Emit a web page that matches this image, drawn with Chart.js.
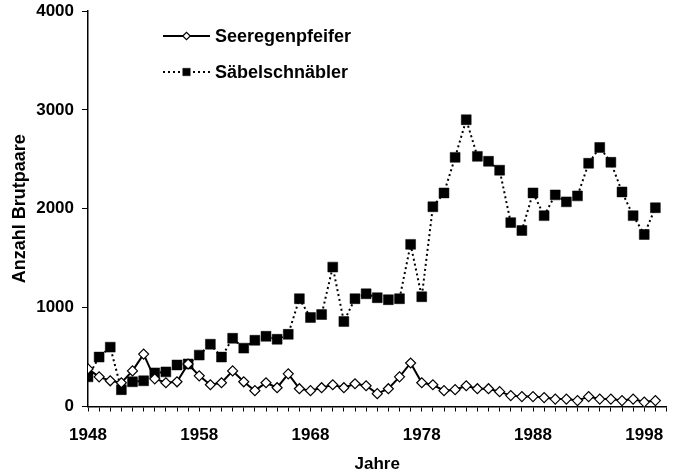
<!DOCTYPE html>
<html>
<head>
    <title>Seeregenpfeifer und Säbelschnäbler</title>
    <script src="https://cdn.jsdelivr.net/npm/chart.js"></script>
    <style>
        body { margin: 0; background: #fff; }
        .wrap { width: 674px; height: 475px; }
    </style>
</head>
<body>
    <div class="wrap"><canvas id="brut"></canvas></div>
    <script>
        // Jahre 1948-1999
        const years = [1948, 1949, 1950, 1951, 1952, 1953, 1954, 1955, 1956, 1957,
            1958, 1959, 1960, 1961, 1962, 1963, 1964, 1965, 1966, 1967,
            1968, 1969, 1970, 1971, 1972, 1973, 1974, 1975, 1976, 1977,
            1978, 1979, 1980, 1981, 1982, 1983, 1984, 1985, 1986, 1987,
            1988, 1989, 1990, 1991, 1992, 1993, 1994, 1995, 1996, 1997,
            1998, 1999];

        const seeregenpfeifer = [380, 300, 260, 240, 360, 530, 280, 240, 250, 430,
            310, 220, 240, 360, 250, 160, 240, 190, 330, 180,
            160, 190, 220, 190, 230, 210, 130, 180, 300, 440,
            240, 220, 160, 170, 210, 180, 180, 150, 110, 100,
            100, 90, 75, 75, 60, 100, 75, 75, 60, 75,
            45, 60];

        const saebelschnaebler = [300, 500, 600, 170, 250, 260, 340, 350, 420, 430,
            520, 630, 500, 690, 590, 670, 710, 680, 730, 1090,
            900, 930, 1410, 860, 1090, 1140, 1100, 1080, 1090, 1640,
            1110, 2020, 2160, 2520, 2900, 2530, 2480, 2390, 1860, 1780,
            2160, 1930, 2140, 2070, 2130, 2460, 2620, 2470, 2170, 1930,
            1740, 2010];

        const labelYears = [1948, 1958, 1968, 1978, 1988, 1998];

        const font = 'Arial, "Liberation Sans", Helvetica, sans-serif';

        function toPoints(vals) {
            return vals.map((v, i) => ({ x: years[i], y: v }));
        }

        // legend drawn by hand, top left inside the plot
        const handLegend = {
            id: 'handLegend',
            afterDraw(chart) {
                const ctx = chart.ctx;
                const rows = [
                    { ds: chart.data.datasets[0], y: 36 },
                    { ds: chart.data.datasets[1], y: 72 }
                ];
                rows.forEach(r => {
                    const ds = r.ds;
                    ctx.save();
                    ctx.strokeStyle = ds.borderColor;
                    ctx.lineWidth = ds.borderWidth;
                    ctx.setLineDash(ds.borderDash || []);
                    ctx.beginPath();
                    ctx.moveTo(163, r.y);
                    ctx.lineTo(210, r.y);
                    ctx.stroke();
                    ctx.setLineDash([]);
                    ctx.fillStyle = ds.pointBackgroundColor;
                    ctx.strokeStyle = ds.pointBorderColor;
                    ctx.lineWidth = ds.pointBorderWidth;
                    Chart.helpers.drawPoint(ctx, {
                        pointStyle: ds.pointStyle,
                        radius: ds.pointRadius * 0.75,
                        rotation: 0,
                        borderWidth: ds.pointBorderWidth
                    }, 186.5, r.y);
                    ctx.fillStyle = '#000';
                    ctx.font = 'bold 18px ' + font;
                    ctx.textBaseline = 'middle';
                    ctx.textAlign = 'left';
                    ctx.fillText(ds.label, 215, r.y + 1);
                    ctx.restore();
                });
            }
        };

        new Chart(document.getElementById('brut'), {
            type: 'line',
            data: {
                datasets: [{
                    label: 'Seeregenpfeifer',
                    data: toPoints(seeregenpfeifer),
                    borderColor: '#000',
                    borderWidth: 2,
                    pointStyle: 'rectRot',
                    pointRadius: 5,
                    pointBackgroundColor: '#fff',
                    pointBorderColor: '#000',
                    pointBorderWidth: 1.2,
                    tension: 0
                }, {
                    label: 'Säbelschnäbler',
                    data: toPoints(saebelschnaebler),
                    borderColor: '#000',
                    borderWidth: 2,
                    borderDash: [2, 3],
                    pointStyle: 'rect',
                    pointRadius: 7,
                    pointBackgroundColor: '#000',
                    pointBorderColor: '#000',
                    pointBorderWidth: 0.5,
                    tension: 0
                }]
            },
            options: {
                responsive: true,
                maintainAspectRatio: false,
                animation: false,
                layout: { padding: { top: 11, right: 6, bottom: 0, left: 0 } },
                plugins: {
                    legend: { display: false },
                    tooltip: { enabled: false }
                },
                scales: {
                    x: {
                        type: 'linear',
                        min: 1948,
                        max: 2000,
                        afterFit(scale) {
                            scale.height = 68.5;
                            scale.paddingLeft = 0;
                            scale.paddingRight = 0;
                        },
                        border: { display: true, color: '#000', width: 1.5 },
                        grid: {
                            drawOnChartArea: false,
                            drawTicks: true,
                            tickLength: 5,
                            color: '#000',
                            lineWidth: 1
                        },
                        ticks: {
                            stepSize: 1,
                            autoSkip: false,
                            maxTicksLimit: 100,
                            maxRotation: 0,
                            padding: 14,
                            color: '#000',
                            font: { family: font, size: 17, weight: 'bold' },
                            callback: v => labelYears.includes(v) ? String(v) : ''
                        },
                        title: {
                            display: true,
                            text: 'Jahre',
                            color: '#000',
                            font: { family: font, size: 17, weight: 'bold' },
                            padding: { top: 0, bottom: 0 }
                        }
                    },
                    y: {
                        min: 0,
                        max: 4000,
                        afterFit(scale) {
                            scale.width = 88;
                            scale.paddingTop = 0;
                            scale.paddingBottom = 0;
                        },
                        border: { display: true, color: '#000', width: 1.5 },
                        grid: {
                            drawOnChartArea: false,
                            drawTicks: true,
                            tickLength: 6,
                            color: '#000',
                            lineWidth: 1
                        },
                        ticks: {
                            stepSize: 1000,
                            padding: 8,
                            color: '#000',
                            font: { family: font, size: 17, weight: 'bold' },
                            callback: v => String(v)
                        },
                        title: {
                            display: true,
                            text: 'Anzahl Brutpaare',
                            color: '#000',
                            font: { family: font, size: 18, weight: 'bold' },
                            padding: { top: 9, bottom: 0 }
                        }
                    }
                }
            },
            plugins: [handLegend]
        });
    </script>
</body>
</html>
